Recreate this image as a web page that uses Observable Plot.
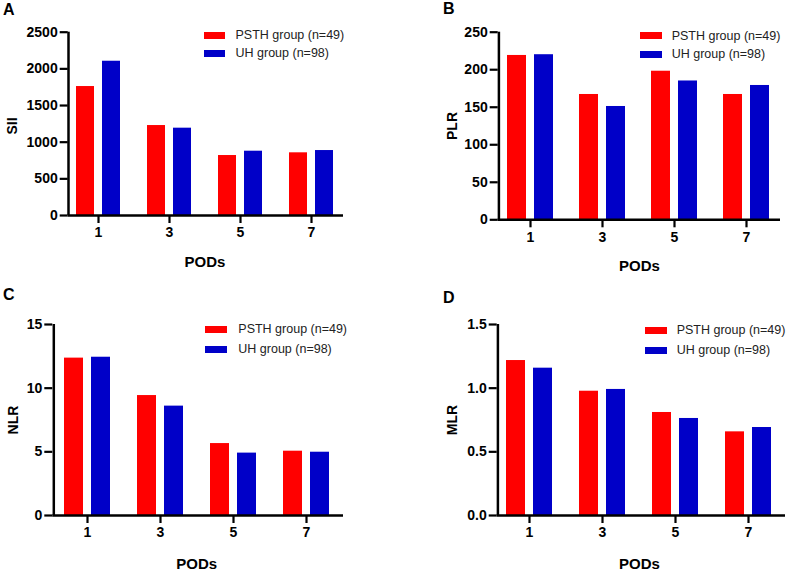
<!DOCTYPE html>
<html>
<head>
<meta charset="utf-8">
<script src="https://cdn.jsdelivr.net/npm/d3@7"></script>
<script src="https://cdn.jsdelivr.net/npm/@observablehq/plot@0.6"></script>
<style>
  html, body { margin: 0; padding: 0; background: #fff; }
  #wrap { position: relative; width: 800px; height: 570px; overflow: hidden; font-family: "Liberation Sans", Arial, sans-serif; }
  .panel { position: absolute; width: 400px; height: 285px; }
  .panel svg { position: absolute; left: 0; top: 0; }
  .panel svg text { font-family: "Liberation Sans", Arial, sans-serif; font-size: 14px; font-weight: bold; fill: #000; }
  .txt { position: absolute; white-space: nowrap; line-height: 1; }
  .letter { font-size: 16px; font-weight: bold; color: #000; }
  .ylab { font-size: 14px; font-weight: bold; color: #000; transform: translate(-50%, -50%) rotate(-90deg); }
  .xlab { font-size: 15px; font-weight: bold; color: #000; transform: translate(-50%, -50%); }
  .leg { font-size: 12.5px; color: #222; }
  .sw { position: absolute; height: 7px; }
</style>
</head>
<body>
<div id="wrap"></div>
<script>
// ---- data ----
const pods = ["1", "3", "5", "7"];
const groups = ["PSTH group (n=49)", "UH group (n=98)"];
const colors = ["#ff0000", "#0000c8"];

const siiPSTH = [1759, 1227, 818, 855];
const siiUH   = [2104, 1191, 877, 886];
const siiTicks = [0, 500, 1000, 1500, 2000, 2500];

const plrPSTH = [219, 167, 198, 167];
const plrUH   = [220, 151, 185, 179];
const plrTicks = [0, 50, 100, 150, 200, 250];

const nlrPSTH = [12.36, 9.42, 5.65, 5.05];
const nlrUH   = [12.43, 8.59, 4.90, 4.97];
const nlrTicks = [0, 5, 10, 15];

const mlrPSTH = [1.217, 0.976, 0.809, 0.657];
const mlrUH   = [1.157, 0.990, 0.762, 0.691];
const mlrTicks = [0, 0.5, 1.0, 1.5];

const xTitle = "PODs";

// ---- layout (pixels, per panel) ----
const panels = [
  {letter: "A", ylabel: "SII", psth: siiPSTH, uh: siiUH, ticks: siiTicks, fmt: d3.format("d"),
   ox: 0, oy: 0, L: 67.7, R: 343, T: 31.7, Z: 215, t1: 97.7, t4: 311, bw: 44, barW: 18,
   letterPos: [3, 9.5], ylabPos: [12, 126], xlabPos: [205, 261],
   leg: {sx: 203.5, sw: 21, tx: 235.5, rows: [35.5, 53.5]}},
  {letter: "B", ylabel: "PLR", psth: plrPSTH, uh: plrUH, ticks: plrTicks, fmt: d3.format("d"),
   ox: 400, oy: 0, L: 97.7, R: 380, T: 31.7, Z: 219.3, t1: 129.3, t4: 346.7, bw: 46, barW: 19,
   letterPos: [43, 8.5], ylabPos: [51.7, 126], xlabPos: [239.5, 265],
   leg: {sx: 240, sw: 22, tx: 271.7, rows: [35.8, 54.2]}},
  {letter: "C", ylabel: "NLR", psth: nlrPSTH, uh: nlrUH, ticks: nlrTicks, fmt: d3.format("d"),
   ox: 0, oy: 285, L: 52.3, R: 343, T: 39, Z: 230, t1: 86, t4: 307.3, bw: 46, barW: 19,
   letterPos: [3, 10], ylabPos: [13.3, 134.5], xlabPos: [196.7, 277.5],
   leg: {sx: 205, sw: 22, tx: 238.3, rows: [44.5, 64.7]}},
  {letter: "D", ylabel: "MLR", psth: mlrPSTH, uh: mlrUH, ticks: mlrTicks, fmt: d3.format(".1f"),
   ox: 400, oy: 285, L: 96.7, R: 385, T: 39, Z: 230, t1: 128.3, t4: 348.3, bw: 46, barW: 19,
   letterPos: [43, 12.5], ylabPos: [51.7, 134.5], xlabPos: [239.5, 277.5],
   leg: {sx: 245, sw: 22, tx: 276.7, rows: [45, 65.3]}}
];

const W = 400, H = 285;
const wrap = document.getElementById("wrap");

function addText(parent, cls, text, x, y, extra) {
  const d = document.createElement("div");
  d.className = "txt " + cls;
  d.textContent = text;
  d.style.left = x + "px";
  d.style.top = y + "px";
  if (extra) Object.assign(d.style, extra);
  parent.appendChild(d);
  return d;
}

for (const p of panels) {
  const div = document.createElement("div");
  div.className = "panel";
  div.style.left = p.ox + "px";
  div.style.top = p.oy + "px";
  wrap.appendChild(div);

  const table = pods.map((pod, i) => ({pod, psth: p.psth[i], uh: p.uh[i]}));
  const yMax = p.ticks[p.ticks.length - 1];

  // band scale paddings derived from layout
  const n = pods.length;
  const step = (p.t4 - p.t1) / (n - 1);
  const paddingInner = 1 - p.bw / step;
  const range = p.R - p.L;
  const outerTotal = range / step - (n - paddingInner); // = 2 * paddingOuter
  const paddingOuter = outerTotal / 2;
  const align = (p.t1 - p.L - p.bw / 2) / (step * outerTotal);
  const inset = p.bw - p.barW;

  const chart = Plot.plot({
    width: W, height: H,
    marginLeft: p.L, marginRight: W - p.R, marginTop: p.T, marginBottom: H - p.Z,
    style: {fontFamily: "'Liberation Sans', Arial, sans-serif", fontSize: "14px", fontWeight: "bold", color: "#000", background: "transparent", overflow: "visible"},
    x: {type: "band", domain: pods, paddingInner, paddingOuter, align},
    y: {domain: [0, yMax]},
    marks: [
      Plot.barY(table, {x: "pod", y: "psth", fill: colors[0], insetRight: inset, insetLeft: 0}),
      Plot.barY(table, {x: "pod", y: "uh", fill: colors[1], insetLeft: inset, insetRight: 0}),
      Plot.axisY({ticks: p.ticks, tickFormat: p.fmt, tickSize: 8, tickPadding: 2.5, stroke: "#000", strokeWidth: 2.2, strokeOpacity: 1, fontSize: 14, fontWeight: "bold", fill: "#000", label: null}),
      Plot.axisX({tickSize: 8, tickPadding: 4, stroke: "#000", strokeWidth: 2.2, strokeOpacity: 1, fontSize: 14, fontWeight: "bold", fill: "#000", label: null}),
      // y-axis line at the left edge of the frame (first band centre shifted to the frame's left edge)
      Plot.ruleX([pods[0]], {x: (d) => d, y1: 0, y2: yMax, dx: p.L - p.t1, stroke: "#000", strokeWidth: 2.5}),
      Plot.ruleY([0], {stroke: "#000", strokeWidth: 2.5})
    ]
  });
  div.appendChild(chart);

  addText(div, "letter", p.letter, p.letterPos[0], p.letterPos[1] - 8);
  addText(div, "ylab", p.ylabel, p.ylabPos[0], p.ylabPos[1]);
  addText(div, "xlab", xTitle, p.xlabPos[0], p.xlabPos[1]);

  groups.forEach((g, i) => {
    const sw = document.createElement("div");
    sw.className = "sw";
    sw.style.left = p.leg.sx + "px";
    sw.style.width = p.leg.sw + "px";
    sw.style.top = (p.leg.rows[i] - 3.5) + "px";
    sw.style.background = colors[i];
    div.appendChild(sw);
    addText(div, "leg", g, p.leg.tx, p.leg.rows[i] - 6.25);
  });
}
</script>
</body>
</html>
